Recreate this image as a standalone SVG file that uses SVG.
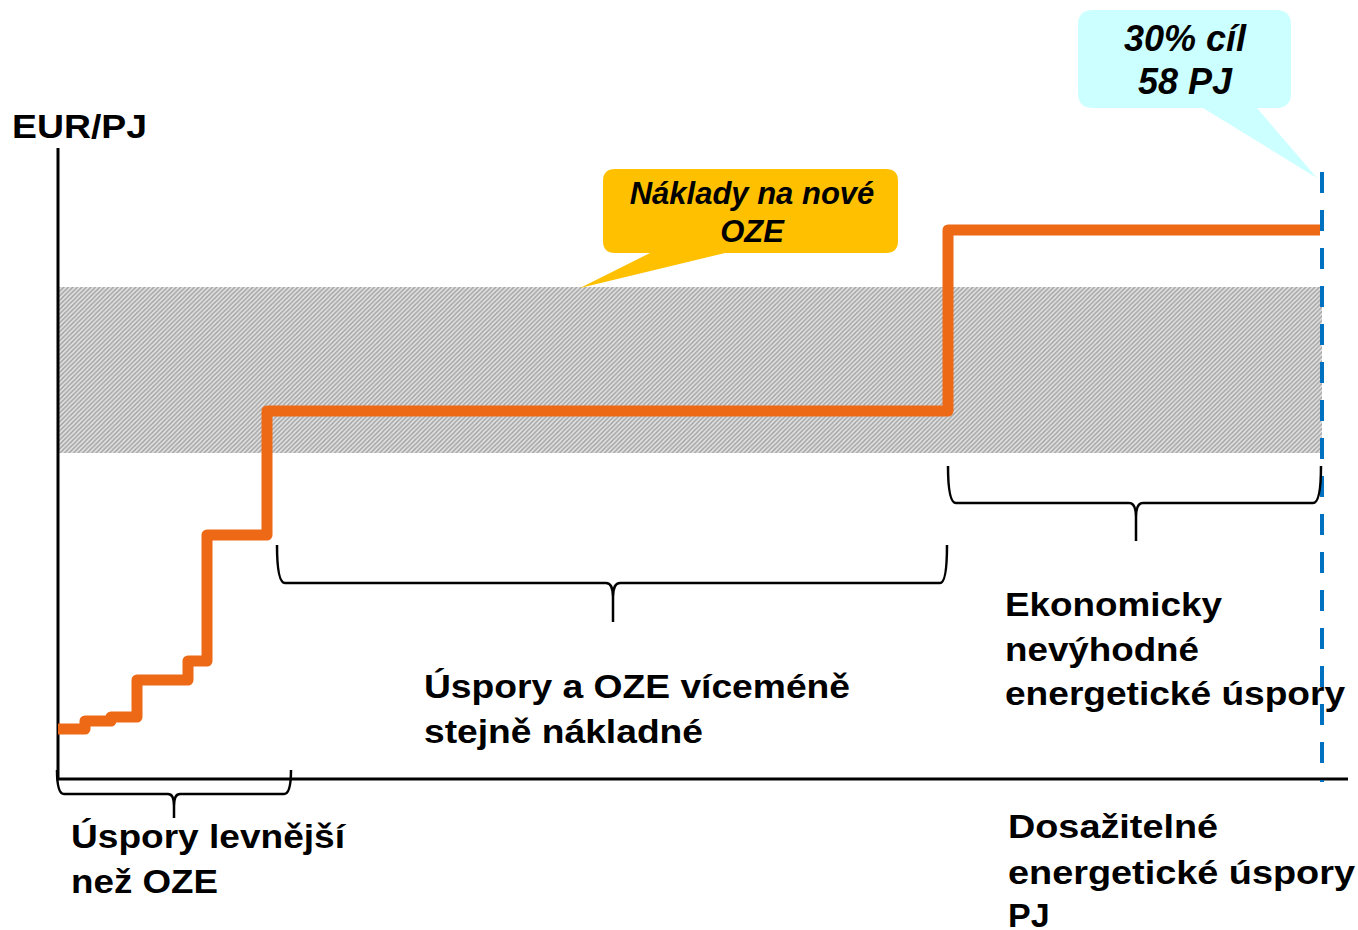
<svg xmlns="http://www.w3.org/2000/svg" width="1358" height="930" viewBox="0 0 1358 930">
<style>
.lbl{font-family:"Liberation Sans",Arial,sans-serif;font-weight:bold;font-size:34px;fill:#000}
.it{font-family:"Liberation Sans",Arial,sans-serif;font-weight:bold;font-style:italic;fill:#000;text-anchor:middle}
.brace{fill:none;stroke:#000;stroke-width:2.5;stroke-linejoin:round}
.axis{stroke:#000;stroke-width:3;fill:none}
</style>
<defs>
<pattern id="hatch" patternUnits="userSpaceOnUse" width="4.5" height="4.5">
<rect width="4.5" height="4.5" fill="#e4e4e4"/>
<path d="M-1,1 L1,-1 M0,4.5 L4.5,0 M3.5,5.5 L5.5,3.5" stroke="#a4a4a4" stroke-width="1.5"/>
</pattern>
</defs>
<rect width="1358" height="930" fill="#fff"/>
<g id="band"><rect x="58" y="287" width="1264" height="166" fill="url(#hatch)"/></g>
<g id="axes">
<path class="axis" d="M58,148 L58,779 L1348,779"/>
</g>
<g id="connectors">
<path d="M58,729 L85,729 L85,721 L111,721 L111,717 L137,717 L137,680 L188,680 L188,661 L207,661 L207,535 L267,535 L267,411 L948,411 L948,230 L1320,230" fill="none" stroke="#ED6915" stroke-width="11" stroke-linejoin="round"/>
<line x1="1322" y1="172" x2="1322" y2="782" stroke="#0070C0" stroke-width="4" stroke-dasharray="21 17"/>
<path class="brace" d="M57,770 Q57,794 64,794 L168,794 Q174,794 174,806 L174,818 M174,806 Q174,794 180,794 L284,794 Q291,794 291,770"/>
<path class="brace" d="M277,545 Q277,583 285,583 L606,583 Q613,583 613,597 L613,622 M613,597 Q613,583 620,583 L940,583 Q947,583 947,545"/>
<path class="brace" d="M948,466 Q948,503 956,503 L1129,503 Q1136,503 1136,517 L1136,541 M1136,517 Q1136,503 1143,503 L1313,503 Q1321,503 1321,466"/>
</g>
<g id="callout-oze">
<path d="M615,169 L886,169 Q898,169 898,181 L898,241 Q898,253 886,253 L725,253 L580,288 L650,253 L615,253 Q603,253 603,241 L603,181 Q603,169 615,169 Z" fill="#FFC000"/>
<text class="it" x="752" y="204" font-size="31">Náklady na nové</text>
<text class="it" x="752" y="242" font-size="31">OZE</text>
</g>
<g id="callout-target">
<path d="M1093,10 L1276,10 Q1291,10 1291,25 L1291,93 Q1291,108 1276,108 L1257,108 L1317,178 L1203,108 L1093,108 Q1078,108 1078,93 L1078,25 Q1078,10 1093,10 Z" fill="#CCFFFF"/>
<text class="it" x="1185" y="51" font-size="36">30% cíl</text>
<text class="it" x="1185" y="94" font-size="36">58 PJ</text>
</g>
<g id="ylabel"><text class="lbl" x="12" y="138" font-size="35" textLength="135" lengthAdjust="spacingAndGlyphs">EUR/PJ</text></g>
<g id="label-middle">
<text class="lbl" x="424" y="698" textLength="426" lengthAdjust="spacingAndGlyphs">Úspory a OZE víceméně</text>
<text class="lbl" x="424" y="743" textLength="279" lengthAdjust="spacingAndGlyphs">stejně nákladné</text>
</g>
<g id="label-right">
<text class="lbl" x="1005" y="616" textLength="217" lengthAdjust="spacingAndGlyphs">Ekonomicky</text>
<text class="lbl" x="1005" y="661" textLength="194" lengthAdjust="spacingAndGlyphs">nevýhodné</text>
<text class="lbl" x="1005" y="705" textLength="340" lengthAdjust="spacingAndGlyphs">energetické úspory</text>
</g>
<g id="label-left">
<text class="lbl" x="71" y="848" textLength="274" lengthAdjust="spacingAndGlyphs">Úspory levnější</text>
<text class="lbl" x="71" y="893" textLength="147" lengthAdjust="spacingAndGlyphs">než OZE</text>
</g>
<g id="xlabel">
<text class="lbl" x="1008" y="838" textLength="210" lengthAdjust="spacingAndGlyphs">Dosažitelné</text>
<text class="lbl" x="1008" y="884" textLength="347" lengthAdjust="spacingAndGlyphs">energetické úspory</text>
<text class="lbl" x="1008" y="927">PJ</text>
</g>
</svg>
